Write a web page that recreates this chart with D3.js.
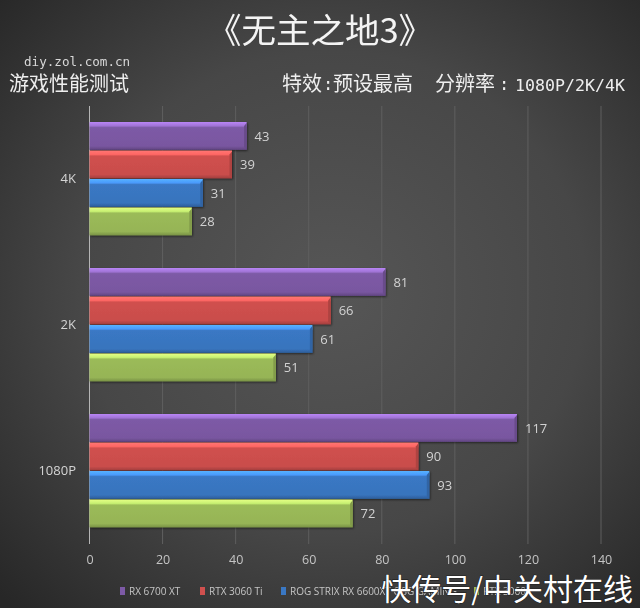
<!DOCTYPE html>
<html><head><meta charset="utf-8">
<script src="https://cdn.jsdelivr.net/npm/d3@7/dist/d3.min.js"></script>
<style>html,body{margin:0;padding:0;background:#333}svg{display:block}</style>
</head><body><svg id="c" width="640" height="608"></svg>
<script>
const categories = ["4K","2K","1080P"];
const seriesNames = ["RX 6700 XT","RTX 3060 Ti","ROG STRIX RX 6600XT O8G GAMING","RTX 3060"];
const rx6700xt = [43,81,117];
const rtx3060ti = [39,66,90];
const rog6600xt = [31,61,93];
const rtx3060 = [28,51,72];
const seriesValues = [rx6700xt,rtx3060ti,rog6600xt,rtx3060];
const seriesColors = ["#7d5aa6","#d0504e","#3a78c4","#9bbb59"];
const xTicks = [0,20,40,60,80,100,120,140];
const titleText = "《无主之地3》";
const siteText = "diy.zol.com.cn";
const subText = "游戏性能测试";
const settingA = "特效";
const settingB = "预设最高";
const settingC = "分辨率";
const settingD = "1080P/2K/4K";
const watermarkText = "快传号/中关村在线";

const cjk = '"Noto Sans CJK SC","Noto Sans",sans-serif';
const latin = '"Open Sans","Noto Sans",sans-serif';
const mono = '"DejaVu Sans Mono",monospace';
const svg = d3.select("#c");
const defs = svg.append("defs");
const bg = defs.append("radialGradient").attr("id","bg").attr("cx","52%").attr("cy","48%").attr("r","72%");
bg.append("stop").attr("offset","0%").attr("stop-color","#565656");
bg.append("stop").attr("offset","55%").attr("stop-color","#474747");
bg.append("stop").attr("offset","100%").attr("stop-color","#272727");
svg.append("rect").attr("width",640).attr("height",608).attr("fill","url(#bg)");

const x = d3.scaleLinear().domain([0,140]).range([89.5,601]);
const y0 = d3.scaleBand().domain(categories).range([106,544]);
const y1 = d3.scaleBand().domain(d3.range(4)).range([16,y0.bandwidth()-16]);

seriesColors.forEach((c,i)=>{
  const g = defs.append("linearGradient").attr("id","bar"+i).attr("x1",0).attr("x2",0).attr("y1",0).attr("y2",1);
  const col = d3.color(c);
  [[0,col.brighter(1.1)],[0.14,col.brighter(0.7)],[0.2,col],[0.86,col.darker(0.1)],[1,col.darker(0.7)]]
    .forEach(([o,k])=>g.append("stop").attr("offset",o).attr("stop-color",k));
});
defs.append("filter").attr("id","soft").append("feGaussianBlur").attr("stdDeviation",0.35);
defs.append("filter").attr("id","shadow").attr("x","-5%").attr("y","-20%").attr("width","110%").attr("height","140%")
  .append("feDropShadow").attr("dx",1).attr("dy",1).attr("stdDeviation",1).attr("flood-color","#000").attr("flood-opacity",0.55);

// grid
svg.append("g").selectAll("line").data(xTicks).join("line")
  .attr("x1",d=>x(d)).attr("x2",d=>x(d)).attr("y1",106).attr("y2",544)
  .attr("stroke",d=>d===0?"#b5b5b5":"#5f5f5f").attr("stroke-width",1);

// x tick labels
const xAxis = d3.axisBottom(x).tickValues(xTicks).tickSize(0).tickPadding(0);
const xg = svg.append("g").attr("transform","translate(0,555)").call(xAxis);
xg.select(".domain").remove();
xg.selectAll("text").attr("font-family",latin).attr("font-size",12.5).attr("fill","#c4c4c4").attr("filter","url(#soft)");

// y labels
const yAxis = d3.axisLeft(y0).tickSize(0).tickPadding(0);
const yg = svg.append("g").attr("transform","translate(76,0)").call(yAxis);
yg.select(".domain").remove();
yg.selectAll("text").attr("font-family",latin).attr("font-size",13).attr("fill","#d4d4d4").attr("filter","url(#soft)");

// bars
const groups = svg.append("g").selectAll("g").data(categories).join("g")
  .attr("transform",d=>`translate(0,${y0(d)})`);
groups.each(function(cat,ci){
  const g = d3.select(this);
  seriesValues.forEach((vals,si)=>{
    const v = vals[ci], yy = y1(si), h = y1.bandwidth()-0.6, x0 = x(0), w = x(v)-x(0);
    const col = d3.color(seriesColors[si]);
    g.append("rect").attr("x",x0).attr("y",yy).attr("width",w).attr("height",h)
      .attr("fill",`url(#bar${si})`).attr("filter","url(#shadow)");
    g.append("path").attr("fill",col.darker(0.5))
      .attr("d",d3.line()([[x0+w-2.5,yy+4],[x0+w,yy+1],[x0+w,yy+h],[x0+w-2.5,yy+h-3]])+"Z");
    g.append("text").attr("x",x(v)+8).attr("y",yy+h/2).attr("dy","0.35em")
      .attr("font-family",latin).attr("font-size",13).attr("fill","#d2d2d2").attr("filter","url(#soft)").text(v);
  });
});

// titles
const txt=(s,px,py,size,fam,fill,anchor)=>svg.append("text").attr("x",px).attr("y",py)
  .attr("font-family",fam).attr("font-size",size).attr("fill",fill).attr("text-anchor",anchor||"start")
  .attr("filter","url(#soft)").text(s);
txt(titleText,320,43,34.5,cjk,"#f4f4f4","middle");
txt(siteText,24,66,12.6,mono,"#d8d8d8");
txt(subText,9,91,20,cjk,"#eeeeee");
txt(settingA,282,91,20,cjk,"#eeeeee");
txt(":",323,90,17,mono,"#eeeeee");
txt(settingB,333,91,20,cjk,"#eeeeee");
txt(settingC,435,91,20,cjk,"#eeeeee");
txt(":",499,90,17,mono,"#eeeeee");
txt(settingD,515,91,16.6,mono,"#eeeeee");

// legend
const legendX = [118,198,279,472];
const lg = svg.append("g").selectAll("g").data(seriesNames).join("g")
  .attr("transform",(d,i)=>`translate(${legendX[i]},591)`);
lg.append("rect").attr("x",2).attr("y",-4).attr("width",5).attr("height",8)
  .attr("fill",(d,i)=>seriesColors[i]);
lg.append("text").attr("x",11).attr("dy","0.35em").attr("font-family",latin).attr("font-size",10)
  .attr("fill","#c4c4c4").attr("filter","url(#soft)").text(d=>d);

// watermark
svg.append("text").attr("x",633).attr("y",600).attr("text-anchor","end").attr("font-family",cjk)
  .attr("font-size",30).attr("fill","#ffffff").attr("stroke","#222").attr("stroke-width",1.2)
  .attr("paint-order","stroke").text(watermarkText);
</script></body></html>
